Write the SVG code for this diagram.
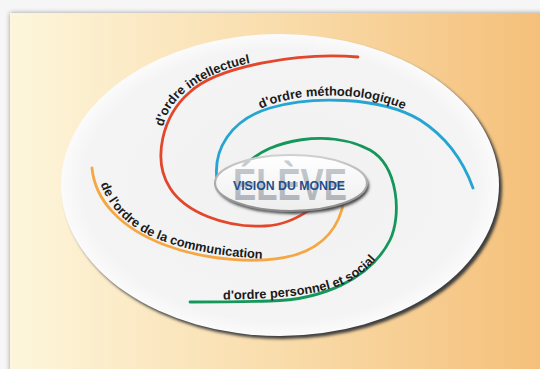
<svg xmlns="http://www.w3.org/2000/svg" width="540" height="369" viewBox="0 0 540 369">
  <defs>
    <linearGradient id="panelGrad" x1="0" y1="0" x2="1" y2="0">
      <stop offset="0" stop-color="#fdf6dc"/>
      <stop offset="0.5" stop-color="#f9dcab"/>
      <stop offset="1" stop-color="#f5bf78"/>
    </linearGradient>
    <radialGradient id="diskGrad" cx="0.5" cy="0.5" r="0.5">
      <stop offset="0" stop-color="#f1f1f1"/>
      <stop offset="0.9" stop-color="#f4f4f4"/>
      <stop offset="1" stop-color="#fbfbfb"/>
    </radialGradient>
    <linearGradient id="centerGrad" x1="0" y1="0" x2="0" y2="1">
      <stop offset="0" stop-color="#ffffff"/>
      <stop offset="1" stop-color="#eeeeee"/>
    </linearGradient>
    <linearGradient id="ringGrad" x1="0" y1="0" x2="0" y2="1">
      <stop offset="0" stop-color="#d0d0d0"/>
      <stop offset="1" stop-color="#8a8a8a"/>
    </linearGradient>
    <linearGradient id="eleveGrad" x1="0" y1="0" x2="0" y2="1">
      <stop offset="0" stop-color="#c9cdd1"/>
      <stop offset="1" stop-color="#aab0b6"/>
    </linearGradient>
    <filter id="soft" x="-10%" y="-10%" width="120%" height="120%">
      <feGaussianBlur stdDeviation="2.5"/>
    </filter>
    <filter id="soft2" x="-10%" y="-10%" width="120%" height="120%">
      <feGaussianBlur stdDeviation="1.6"/>
    </filter>
    <path id="tpRed" d="M163,127 C167,110 176,99 189,89 C212,72 240,63 275,59.5"/>
    <path id="tpBlue" d="M258,110 C285,96 330,92 370,99 C390,103 405,109 420,117"/>
    <path id="tpOrange" d="M100,182 C108,207 128,228 160,240 C195,253 235,258 275,259"/>
    <path id="tpGreen" d="M222,299.5 C272,299 322,296 350,281 C365,272 376,262 385,248"/>
  </defs>
  <style>
    .arm { fill: none; stroke-width: 2.8; stroke-linecap: round; }
    .lbl { font-family: "Liberation Sans", Arial, sans-serif; font-weight: bold; font-size: 12.8px; fill: #1a1a1a; }
  </style>

  <!-- background and panel -->
  <rect x="0" y="0" width="540" height="369" fill="#f6f6f6"/>
  <rect x="10" y="13" width="540" height="370" fill="#9a9a9a" filter="url(#soft)"/>
  <rect x="10" y="13" width="540" height="370" fill="url(#panelGrad)"/>

  <!-- big disk -->
  <g id="disk">
    <ellipse cx="283" cy="188" rx="219" ry="151" fill="#3c3c3c" filter="url(#soft2)"/>
    <ellipse cx="280" cy="185" rx="219" ry="151" fill="url(#diskGrad)"/>
  </g>

  <!-- spiral arms -->
  <g id="connectors">
    <path class="arm" stroke="#e2472b" d="M358,57 C300,52 218,66 190,92 C162,116 152,160 170,188 C185,212 225,228 265,226 C285,225 300,217 312,208"/>
    <path class="arm" stroke="#25a5d2" d="M217,180 C213,150 230,120 270,108 C310,96 380,96 420,120 C445,136 463,160 473,188"/>
    <path class="arm" stroke="#15975b" d="M247,164 C268,140 330,128 370,150 C398,166 402,215 390,240 C370,280 320,300 270,301 C240,302 210,302 190,302"/>
    <path class="arm" stroke="#f5a743" d="M92,168 C95,200 120,228 165,245 C205,260 260,265 295,255 C325,246 340,225 344,200"/>
  </g>

  <!-- labels -->
  <g id="label-intellectuel">
    <text class="lbl"><textPath href="#tpRed">d'ordre intellectuel</textPath></text>
  </g>
  <g id="label-methodologique">
    <text class="lbl"><textPath href="#tpBlue" startOffset="3">d'ordre méthodologique</textPath></text>
  </g>
  <g id="label-communication">
    <text class="lbl"><textPath href="#tpOrange" startOffset="2">de l'ordre de la communication</textPath></text>
  </g>
  <g id="label-personnel">
    <text class="lbl"><textPath href="#tpGreen" startOffset="1">d'ordre personnel et social</textPath></text>
  </g>

  <!-- center node -->
  <g id="center">
    <ellipse cx="293" cy="186" rx="76" ry="28" fill="#404040" filter="url(#soft2)"/>
    <ellipse cx="291" cy="183" rx="76" ry="28" fill="url(#centerGrad)" stroke="url(#ringGrad)" stroke-width="2.2"/>
    <text x="290" y="200" text-anchor="middle" textLength="114" lengthAdjust="spacingAndGlyphs" font-family="Liberation Sans, Arial, sans-serif" font-weight="bold" font-size="45" fill="url(#eleveGrad)">ÉLÈVE</text>
    <text x="289" y="189.5" text-anchor="middle" textLength="112" lengthAdjust="spacingAndGlyphs" font-family="Liberation Sans, Arial, sans-serif" font-weight="bold" font-size="12.5" fill="#1f4f8f">VISION DU MONDE</text>
  </g>
</svg>
